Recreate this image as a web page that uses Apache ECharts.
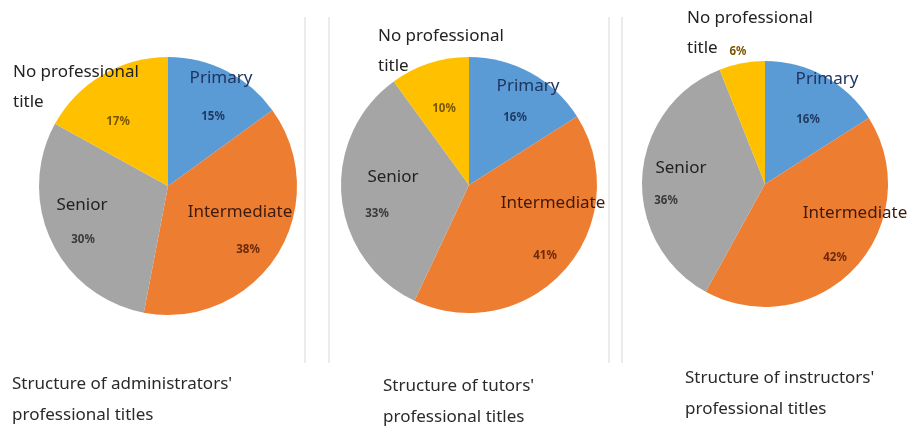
<!DOCTYPE html>
<html>
<head>
<meta charset="utf-8">
<script src="https://cdn.jsdelivr.net/npm/echarts@6/dist/echarts.min.js"></script>
<style>
  html, body { margin: 0; padding: 0; background: #ffffff; }
  #chart { width: 909px; height: 428px; }
</style>
</head>
<body>
<div id="chart"></div>
<script>
// Professional title categories, in clockwise order from 12 o'clock
const categories = ['Primary', 'Intermediate', 'Senior', 'No professional title'];

// Share of each title (%) for the three staff groups
const administrators = [15, 38, 30, 17];
const tutors = [16, 41, 33, 10];
const instructors = [16, 42, 36, 6];

// Captions under each pie
const captionAdministrators = ["Structure of administrators'", 'professional titles'];
const captionTutors = ["Structure of tutors'", 'professional titles'];
const captionInstructors = ["Structure of instructors'", 'professional titles'];

const sliceColors = ['#5B9BD5', '#ED7D31', '#A5A5A5', '#FFC000'];
const pctColors = ['#1F3A63', '#6B2A0C', '#3A3A3A', '#7A5600'];
const nameColors = ['#1F3561', '#3E1A0C', '#222222', '#222222'];
const FONT = '"Noto Sans", "Open Sans", sans-serif';

// Layout of each pie: centre, radius, caption anchor, and where the name / percentage texts sit
const pies = [
  {
    values: administrators, caption: captionAdministrators,
    center: [168, 186], radius: 129, captionAt: [12, 384],
    names: [[221, 78, 'center'], [240, 212, 'center'], [82, 205, 'center'], [13, 72, 'left']],
    pct: [[213, 117], [248, 250], [83, 240], [118, 122]]
  },
  {
    values: tutors, caption: captionTutors,
    center: [469, 185], radius: 128, captionAt: [383, 386],
    names: [[528, 86, 'center'], [553, 203, 'center'], [393, 177, 'center'], [378, 36, 'left']],
    pct: [[515, 118], [545, 256], [377, 214], [444, 109]]
  },
  {
    values: instructors, caption: captionInstructors,
    center: [765, 184], radius: 123, captionAt: [685, 378],
    names: [[827, 79, 'center'], [855, 213, 'center'], [681, 168, 'center'], [687, 18, 'left']],
    pct: [[808, 120], [835, 258], [666, 201], [738, 52]]
  }
];

function displayName(name) {
  const cut = name.lastIndexOf(' ');
  return name.split(' ').length > 2 ? name.slice(0, cut) + '\n' + name.slice(cut + 1) : name;
}

const series = pies.map(function (p) {
  return {
    type: 'pie',
    center: p.center,
    radius: p.radius,
    startAngle: 90,
    clockwise: true,
    silent: true,
    animation: false,
    itemStyle: { borderWidth: 0 },
    label: {
      show: true,
      position: 'inside',
      formatter: '{d}%',
      fontFamily: FONT,
      fontSize: 11.5,
      fontWeight: 'bold'
    },
    labelLine: { show: false },
    labelLayout: function (params) {
      const xy = p.pct[params.dataIndex];
      return { x: xy[0], y: xy[1], align: 'center', verticalAlign: 'middle' };
    },
    data: categories.map(function (c, i) {
      return {
        name: c,
        value: p.values[i],
        itemStyle: { color: sliceColors[i] },
        label: { color: pctColors[i] }
      };
    })
  };
});

const graphics = [];

// Thin divider lines between the panels
[305, 329, 609, 622].forEach(function (x) {
  graphics.push({
    type: 'line', silent: true,
    shape: { x1: x, y1: 17, x2: x, y2: 363 },
    style: { stroke: '#E4E4E4', lineWidth: 1.5 }
  });
});

pies.forEach(function (p) {
  categories.forEach(function (c, i) {
    const pos = p.names[i];
    const multi = displayName(c).indexOf('\n') >= 0;
    graphics.push({
      type: 'text', silent: true, z: 100,
      x: pos[0], y: multi ? pos[1] - 15 : pos[1],
      style: {
        text: displayName(c),
        font: '17px ' + FONT,
        fill: nameColors[i],
        textAlign: pos[2],
        textVerticalAlign: multi ? 'top' : 'middle',
        lineHeight: 30
      }
    });
  });
  graphics.push({
    type: 'text', silent: true,
    x: p.captionAt[0], y: p.captionAt[1] - 15.5,
    style: {
      text: p.caption.join('\n'),
      font: '17px ' + FONT,
      fill: '#2A2A2A',
      textAlign: 'left',
      textVerticalAlign: 'top',
      lineHeight: 31
    }
  });
});

const chart = echarts.init(document.getElementById('chart'), null, { renderer: 'canvas' });
chart.setOption({
  backgroundColor: '#ffffff',
  animation: false,
  series: series,
  graphic: graphics
});
</script>
</body>
</html>
